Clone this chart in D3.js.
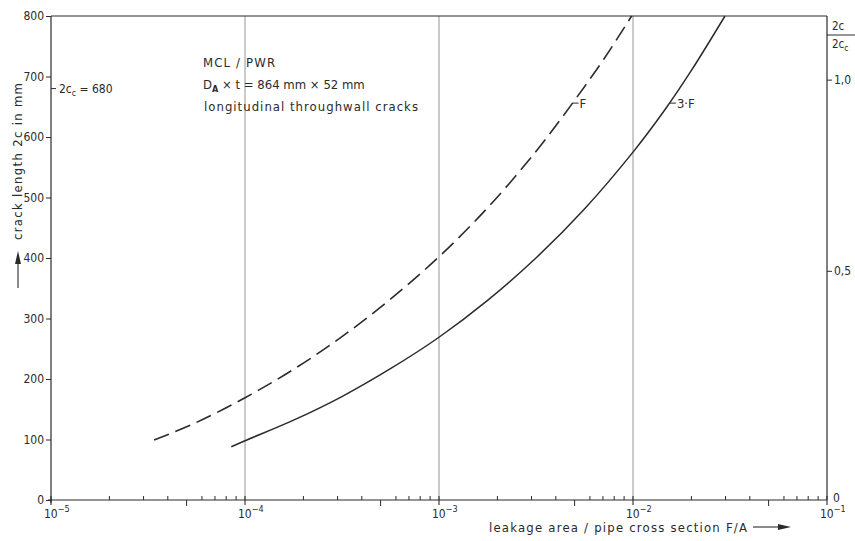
<!DOCTYPE html>
<html>
<head>
<meta charset="utf-8">
<script src="https://cdn.jsdelivr.net/npm/d3@7"></script>
<style>
  body { margin: 0; background: #fff; }
  text { font-family: "DejaVu Sans Condensed", "DejaVu Sans", sans-serif; fill: #2b2b2b; }
</style>
</head>
<body>
<div id="chart"></div>
<script>
// values
const crackTicks = [0, 100, 200, 300, 400, 500, 600, 700, 800];
const decades = [1e-5, 1e-4, 1e-3, 1e-2, 1e-1];
const decadeExp = ["\u22125", "\u22124", "\u22123", "\u22122", "\u22121"];
const ratioLabels = ["0,5", "1,0"];
const ratioTickMm = [378, 694];   // where the drawing puts 0,5 and 1,0 on the mm scale
const criticalLength = 680;

// curve "F" (dashed)
const areaF  = [3.4e-5, 5.6e-5, 1e-4, 1.78e-4, 3.16e-4, 5.62e-4, 1e-3, 1.78e-3, 3.16e-3, 4.88e-3, 7.08e-3, 9.84e-3];
const crackF = [99, 128, 169, 216, 270, 332, 402, 483, 576, 656, 729, 800];
// curve "3·F" (solid)
const area3F  = [8.5e-5, 1e-4, 1.78e-4, 3.16e-4, 5.62e-4, 1e-3, 1.78e-3, 3.16e-3, 5.62e-3, 1e-2, 1.46e-2, 2e-2, 2.98e-2];
const crack3F = [88, 98, 132, 171, 217, 269, 330, 400, 481, 575, 645, 710, 800];

// where the curve names sit
const labelNames = ["F", "3\u00b7F"];
const labelArea  = [4.88e-3, 1.55e-2];
const labelCrack = [656, 656];

const width = 855, height = 541;

const svg = d3.select("#chart")
  .append("svg")
    .attr("width", width)
    .attr("height", height);

const x = d3.scaleLog().domain([1e-5, 1e-1]).range([51, 827]);
const y = d3.scaleLinear().domain([0, 800]).range([500, 16]);

const ink = "#2b2b2b";

// vertical grid lines at the decades
svg.append("g").selectAll("line")
  .data(decades.slice(1, 4))
  .enter().append("line")
    .attr("x1", d => x(d)).attr("x2", d => x(d))
    .attr("y1", y(0)).attr("y2", y(800))
    .attr("stroke", "#8a8a8a")
    .attr("stroke-width", 0.9);

// frame: left, top, right, bottom
const frame = svg.append("g").attr("stroke", ink).attr("stroke-width", 1.2).attr("fill", "none");
frame.append("line").attr("x1", x(1e-5)).attr("x2", x(1e-5)).attr("y1", y(0) + 3).attr("y2", y(800));
frame.append("line").attr("x1", x(1e-5)).attr("x2", x(1e-1)).attr("y1", y(800)).attr("y2", y(800));
frame.append("line").attr("x1", x(1e-1)).attr("x2", x(1e-1)).attr("y1", y(0)).attr("y2", y(800));
frame.append("line").attr("x1", x(1e-5) - 3).attr("x2", x(1e-1)).attr("y1", y(0)).attr("y2", y(0));

// left axis
const yAxis = d3.axisLeft(y).tickValues(crackTicks).tickSize(5).tickPadding(2);
const gy = svg.append("g").attr("transform", "translate(" + x(1e-5) + ",0)").call(yAxis);
gy.select(".domain").remove();
gy.selectAll("line").attr("stroke", ink).attr("stroke-width", 1);
gy.selectAll("text").attr("font-size", 12).attr("font-family", null).style("fill", ink);

// 2c_c = 680 marker
svg.append("line")
  .attr("x1", x(1e-5)).attr("x2", x(1e-5) + 5)
  .attr("y1", y(criticalLength)).attr("y2", y(criticalLength))
  .attr("stroke", ink).attr("stroke-width", 1);
const cc = svg.append("text")
  .attr("x", x(1e-5) + 8).attr("y", y(criticalLength) + 4)
  .attr("font-size", 12);
cc.append("tspan").text("2c");
cc.append("tspan").attr("font-size", 8.5).attr("dy", 3).text("c");
cc.append("tspan").attr("dy", -3).text(" = " + criticalLength);

// right axis 2c / 2c_c
const ratioY = ratioTickMm.map(v => y(v));
svg.append("g").selectAll("line")
  .data(ratioY)
  .enter().append("line")
    .attr("x1", x(1e-1)).attr("x2", x(1e-1) + 5)
    .attr("y1", d => d).attr("y2", d => d)
    .attr("stroke", ink).attr("stroke-width", 1);
svg.append("g").selectAll("text")
  .data(ratioLabels)
  .enter().append("text")
    .attr("x", x(1e-1) + 7)
    .attr("y", (d, i) => ratioY[i] + 4)
    .attr("font-size", 12)
    .text(d => d);
svg.append("text").attr("x", x(1e-1) + 6).attr("y", y(0) + 2).attr("font-size", 12).text("0");

// fraction 2c / 2c_c at the top right
svg.append("text").attr("x", x(1e-1) + 5).attr("y", 30).attr("font-size", 11.5).text("2c");
svg.append("line")
  .attr("x1", x(1e-1)).attr("x2", width)
  .attr("y1", 35).attr("y2", 35)
  .attr("stroke", ink).attr("stroke-width", 1);
const frac = svg.append("text").attr("x", x(1e-1) + 5).attr("y", 48).attr("font-size", 11.5);
frac.append("tspan").text("2c");
frac.append("tspan").attr("font-size", 8.5).attr("dy", 3).text("c");

// bottom axis: decades and minor ticks
const minor = [];
decades.slice(0, 4).forEach(d => {
  for (let k = 2; k <= 9; k++) minor.push(k * d);
});
svg.append("g").selectAll("line")
  .data(minor)
  .enter().append("line")
    .attr("x1", d => x(d)).attr("x2", d => x(d))
    .attr("y1", y(0))
    .attr("y2", d => Math.abs(d / Math.pow(10, Math.floor(Math.log10(d) + 1e-9)) - 5) < 1e-6 ? y(0) + 6 : y(0) - 4)
    .attr("stroke", ink).attr("stroke-width", 1);
svg.append("g").selectAll("line")
  .data(decades)
  .enter().append("line")
    .attr("x1", d => x(d)).attr("x2", d => x(d))
    .attr("y1", y(0) - 4).attr("y2", y(0) + 5)
    .attr("stroke", ink).attr("stroke-width", 1.1);

const xl = svg.append("g").selectAll("text")
  .data(decades)
  .enter().append("text")
    .attr("x", d => x(d) - 7)
    .attr("y", y(0) + 18)
    .attr("font-size", 12);
xl.append("tspan").text("10");
xl.append("tspan").attr("font-size", 9).attr("dy", -6).text((d, i) => decadeExp[i]);

// axis titles
svg.append("text")
  .attr("x", 489).attr("y", 532)
  .attr("font-size", 13)
  .attr("textLength", 258)
  .attr("lengthAdjust", "spacing")
  .text("leakage area / pipe cross section  F/A");
svg.append("line")
  .attr("x1", 753).attr("x2", 780).attr("y1", 527).attr("y2", 527)
  .attr("stroke", ink).attr("stroke-width", 1.1);
svg.append("path")
  .attr("d", "M778,524 L791,527 L778,530 Z")
  .attr("fill", ink);

svg.append("text")
  .attr("transform", "translate(22,240) rotate(-90)")
  .attr("font-size", 13)
  .attr("textLength", 157)
  .attr("lengthAdjust", "spacing")
  .text("crack length 2c in mm");
svg.append("line")
  .attr("x1", 18).attr("x2", 18).attr("y1", 288).attr("y2", 262)
  .attr("stroke", ink).attr("stroke-width", 1.1);
svg.append("path")
  .attr("d", "M15,264 L18,251 L21,264 Z")
  .attr("fill", ink);

// annotation block
const note = svg.append("g").attr("font-size", 13);
note.append("text").attr("x", 203).attr("y", 67)
  .attr("textLength", 72).attr("lengthAdjust", "spacing").text("MCL / PWR");
const da = note.append("text").attr("x", 203).attr("y", 89);
da.append("tspan").text("D");
da.append("tspan").attr("font-size", 9).attr("font-weight", "bold").attr("dy", 3).text("A");
da.append("tspan").attr("dy", -3).text(" \u00d7 t = 864 mm \u00d7 52 mm");
note.append("text").attr("x", 204).attr("y", 111)
  .attr("textLength", 214).attr("lengthAdjust", "spacing")
  .text("longitudinal  throughwall  cracks");

// curves
const line = d3.line()
  .x(d => x(d[0]))
  .y(d => y(d[1]))
  .curve(d3.curveCatmullRom.alpha(0.5));

const dataF = areaF.map((a, i) => [a, crackF[i]]);
const data3F = area3F.map((a, i) => [a, crack3F[i]]);

svg.append("path")
  .datum(dataF)
  .attr("d", line)
  .attr("fill", "none")
  .attr("stroke", ink)
  .attr("stroke-width", 1.6)
  .attr("stroke-dasharray", "16,7");

svg.append("path")
  .datum(data3F)
  .attr("d", line)
  .attr("fill", "none")
  .attr("stroke", ink)
  .attr("stroke-width", 1.5);

// curve labels with short leaders
const lab = svg.append("g").selectAll("g")
  .data(labelNames)
  .enter().append("g");
lab.append("line")
  .attr("x1", (d, i) => x(labelArea[i])).attr("x2", (d, i) => x(labelArea[i]) + 6)
  .attr("y1", (d, i) => y(labelCrack[i])).attr("y2", (d, i) => y(labelCrack[i]))
  .attr("stroke", ink).attr("stroke-width", 1);
lab.append("text")
  .attr("x", (d, i) => x(labelArea[i]) + 7)
  .attr("y", (d, i) => y(labelCrack[i]) + 5)
  .attr("font-size", 13)
  .text(d => d);
</script>
</body>
</html>
